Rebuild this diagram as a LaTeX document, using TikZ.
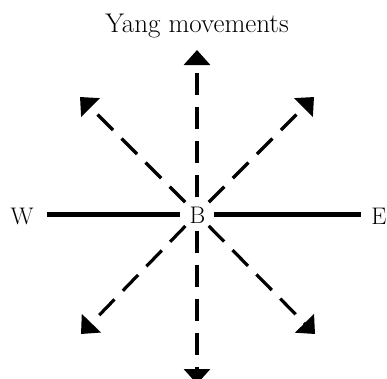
\documentclass[tikz,border=0pt]{standalone}
\usetikzlibrary{arrows.meta,positioning}

\begin{document}
\begin{tikzpicture}[
    x=1pt, y=-1pt,
    lNode/.style={inner sep=0pt, anchor=base, font=\fontsize{24}{28}\selectfont},
    tNode/.style={inner sep=0pt, anchor=base, font=\fontsize{27}{32}\selectfont},
    cNode/.style={circle, minimum size=33pt, inner sep=0pt},
    axis/.style={draw, line width=5pt},
    move/.style={draw, line width=3.2pt, dash pattern=on 22pt off 12pt, -{Triangle[length=15pt, width=26pt]}}
]
    \clip (0,0) rectangle (387,378);
    \node[cNode] (B) at (197,214) {};
    \node[lNode] (Bl) at (197.5,223) {B};
    \node[lNode] (W) at (22,224) {W};
    \node[lNode] (E) at (379,224) {E};
    \node[tNode] (T) at (197,32) {Yang movements};
    \coordinate (N) at (197,50);
    \coordinate (S) at (197,384);
    \coordinate (NE) at (314,97);
    \coordinate (NW) at (80,97);
    \coordinate (SE) at (315,334);
    \coordinate (SW) at (81,334);
    \coordinate (W1) at (47,214);
    \coordinate (E1) at (361,214);
    \path[axis] (W1) -- (B) (B) -- (E1);
    \foreach \t in {N,S,NE,NW,SE,SW}
        \path[move] (B) -- (\t);
\end{tikzpicture}
\end{document}
